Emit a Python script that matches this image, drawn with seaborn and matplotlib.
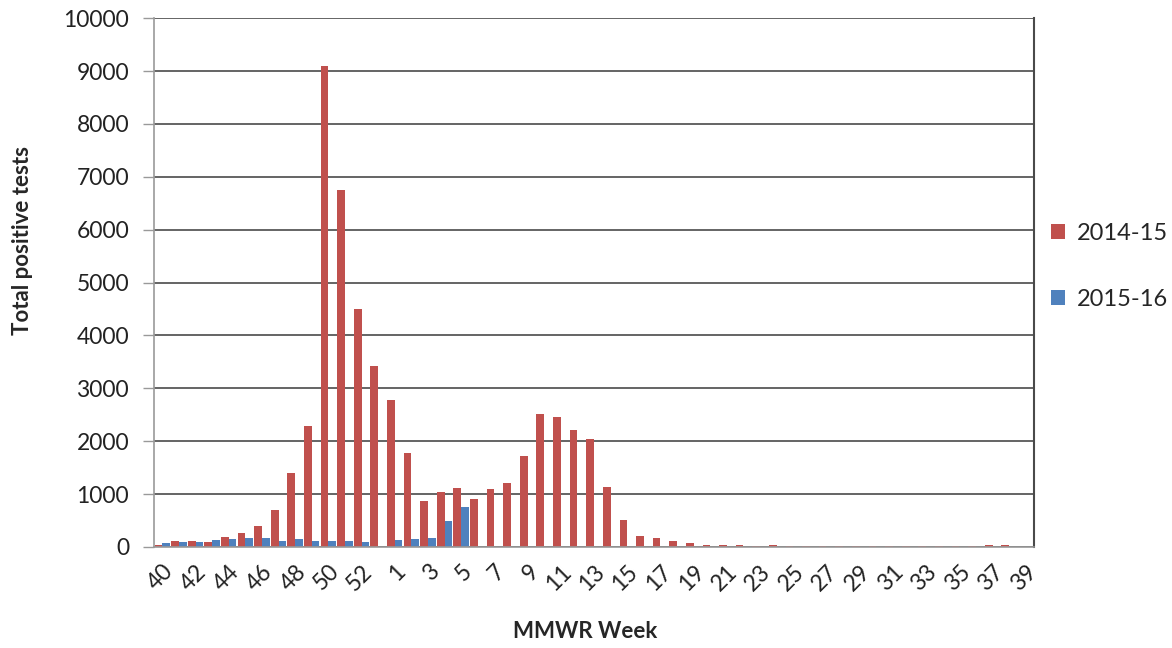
#!/usr/bin/env python3
# Weekly total positive tests, two flu seasons, grouped bars by MMWR week.

import numpy as np
import pandas as pd
import seaborn as sns
import matplotlib.pyplot as plt
from matplotlib.patches import Patch

# MMWR weeks 40..53 then 1..39 (2014 had a week 53)
WEEKS = [str(w) for w in list(range(40, 54)) + list(range(1, 40))]
SEASONS = ["2014-15", "2015-16"]
PALETTE = ["#C0504D", "#4F81BD"]

POS_2014_15 = [
    30, 120, 120, 100, 195, 270, 400, 700, 1400, 2290,      # 40-49
    9100, 6750, 4500, 3430,                                  # 50-53
    2780, 1780, 870, 1045, 1120, 900, 1100, 1215, 1725,      # 1-9
    2510, 2450, 2210, 2040, 1140, 510, 215, 175, 120, 80,    # 10-19
    30, 30, 30, 10, 30, 8, 8, 8, 8, 8,                       # 20-29
    8, 8, 8, 8, 8, 8, 25, 30, 30, 5,                         # 30-39
]
POS_2015_16 = [
    80, 100, 100, 130, 150, 175, 170, 120, 150, 120,        # 40-49
    110, 120, 100, np.nan,                                   # 50-53
    130, 150, 175, 490, 760,                                 # 1-5
] + [np.nan] * 34                                            # 6-39 not yet reported

Y_TICKS = list(range(0, 10001, 1000))


def main():
    df = pd.DataFrame({
        "week": WEEKS * 2,
        "season": [SEASONS[0]] * len(WEEKS) + [SEASONS[1]] * len(WEEKS),
        "positives": POS_2014_15 + POS_2015_16,
    })

    sns.set_theme(style="white")
    plt.rcParams["font.family"] = ["Lato", "DejaVu Sans"]

    fig, ax = plt.subplots(figsize=(11.72, 6.48), dpi=100)
    fig.subplots_adjust(left=0.1314, right=0.8823, top=0.972, bottom=0.156)

    sns.barplot(
        data=df, x="week", y="positives", hue="season",
        order=WEEKS, hue_order=SEASONS, palette=PALETTE,
        errorbar=None, width=0.93, saturation=1, linewidth=0,
        legend=False, ax=ax,
    )

    # y axis + gridlines
    ax.set_ylim(0, 10000)
    ax.set_yticks(Y_TICKS)
    ax.set_yticklabels([str(v) for v in Y_TICKS], fontsize=16.5, color="#222222")
    ax.yaxis.grid(True, color="#4a4a4a", linewidth=1.2)
    ax.set_axisbelow(True)
    ax.tick_params(axis="y", length=8, width=1, color="#999999", pad=10, left=True)

    # x axis: label every other week
    ax.set_xlim(-0.5, len(WEEKS) - 0.5)
    ticks = list(range(0, len(WEEKS), 2))
    ax.set_xticks(ticks)
    ax.set_xticklabels([WEEKS[i] for i in ticks], rotation=45, ha="right",
                       rotation_mode="anchor", fontsize=16.5, color="#222222")
    ax.tick_params(axis="x", length=0, pad=10)

    for side in ("left", "bottom"):
        ax.spines[side].set_color("#999999")
        ax.spines[side].set_linewidth(1.2)
    ax.spines["right"].set_color("#4a4a4a")
    ax.spines["right"].set_linewidth(1.5)
    ax.spines["top"].set_visible(False)

    ax.set_xlabel("MMWR Week", fontsize=16, fontweight="bold")
    ax.xaxis.set_label_coords(0.49, -0.14)
    ax.set_ylabel("Total positive tests", fontsize=16, fontweight="bold")
    ax.yaxis.set_label_coords(-0.137, 0.58)

    handles = [Patch(facecolor=c, edgecolor="none") for c in PALETTE]
    ax.legend(handles, SEASONS, loc="center left", bbox_to_anchor=(1.0, 0.53),
              frameon=False, fontsize=17, labelspacing=1.9, borderaxespad=0.3,
              handlelength=0.6, handleheight=0.6, handletextpad=0.5)

    fig.savefig("out.png", dpi=100)


if __name__ == "__main__":
    main()
